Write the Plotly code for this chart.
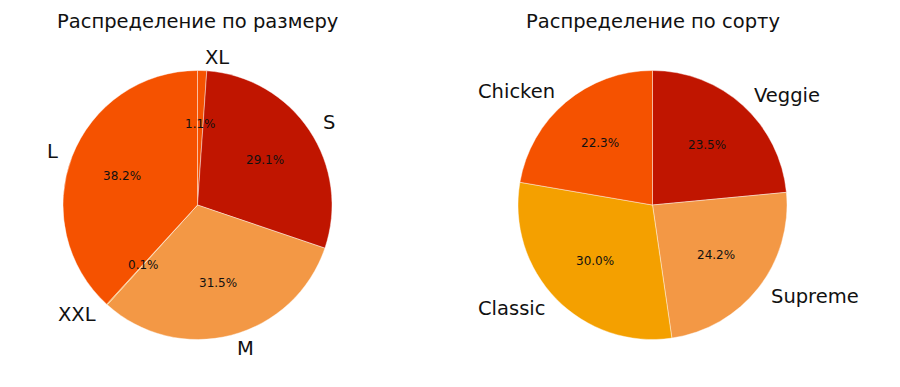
import math
import plotly.graph_objects as go

# ---- data (counter-clockwise order starting at 12 o'clock) ----
size_labels = ['L', 'XXL', 'M', 'S', 'XL']
size_values = [38.2, 0.1, 31.5, 29.1, 1.1]
type_labels = ['Chicken', 'Classic', 'Supreme', 'Veggie']
type_values = [22.3, 30.0, 24.2, 23.5]
titles = ['Распределение по размеру', 'Распределение по сорту']

palette = ['#F55200', '#F4A000', '#F39845', '#C01500']

# ---- layout geometry (pixels) ----
W, H = 900, 387
R = 134.5
centers = [(197.5, 205.0), (652.5, 205.0)]
FONT = 'DejaVu Sans'

fig = go.Figure()
annotations = []

for (cx, cy), labels, values, title in zip(
        centers, [size_labels, type_labels], [size_values, type_values], titles):
    colors = [palette[i % len(palette)] for i in range(len(values))]
    # plotly: draw clockwise from 12 o'clock with reversed order
    # == counter-clockwise from 12 o'clock in original order
    fig.add_trace(go.Pie(
        labels=labels[::-1], values=values[::-1], sort=False,
        direction='clockwise', rotation=0,
        marker=dict(colors=colors[::-1],
                    line=dict(color='rgba(255,255,255,0.7)', width=0.6)),
        textinfo='none', hoverinfo='label+percent', showlegend=False,
        domain=dict(x=[(cx - R) / W, (cx + R) / W],
                    y=[1 - (cy + R) / H, 1 - (cy - R) / H]),
    ))
    total = sum(values)
    cum = 0.0
    for lab, v in zip(labels, values):
        frac = v / total
        mid = (cum + frac / 2) * 360.0  # counter-clockwise from top
        cum += frac
        dx = -math.sin(math.radians(mid))
        dy = math.cos(math.radians(mid))
        # outer label
        px, py = cx + dx * 1.1 * R, cy - dy * 1.1 * R
        annotations.append(dict(
            x=px / W, y=1 - py / H, xref='paper', yref='paper', text=lab,
            showarrow=False, xanchor='left' if dx > 0 else 'right', yanchor='middle',
            font=dict(family=FONT, size=19.5, color='#111111')))
        # percentage label
        px, py = cx + dx * 0.6 * R, cy - dy * 0.6 * R
        annotations.append(dict(
            x=px / W, y=1 - py / H, xref='paper', yref='paper',
            text=f'{frac * 100:.1f}%', showarrow=False,
            xanchor='center', yanchor='middle',
            font=dict(family=FONT, size=12, color='#111111')))
    annotations.append(dict(
        x=cx / W, y=1 - 22 / H, xref='paper', yref='paper', text=title,
        showarrow=False, xanchor='center', yanchor='middle',
        font=dict(family=FONT, size=19.5, color='#111111')))

fig.update_layout(
    width=W, height=H,
    margin=dict(l=0, r=0, t=0, b=0),
    paper_bgcolor='white', plot_bgcolor='white',
    annotations=annotations,
)

fig.write_html('out.html')
